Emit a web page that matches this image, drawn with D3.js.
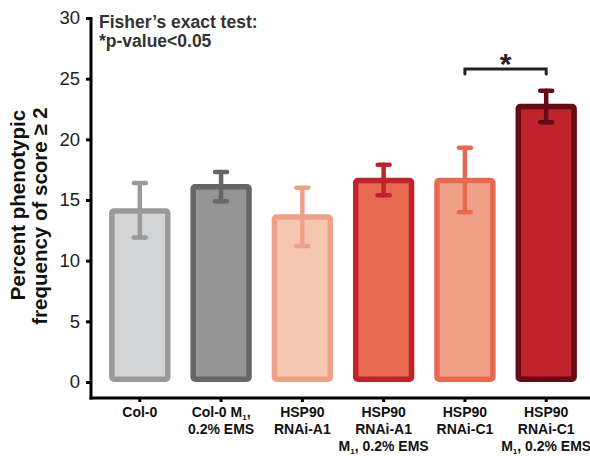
<!DOCTYPE html>
<html><head><meta charset="utf-8">
<script src="https://cdn.jsdelivr.net/npm/d3@7"></script>
<style>body{margin:0;background:#fff}svg{display:block;font-family:"Liberation Sans",Arial,sans-serif}</style>
</head><body><svg id="c" width="590" height="456"></svg>
<script>
const groups = ["Col-0", "Col-0 M1 EMS", "HSP90 RNAi-A1", "HSP90 RNAi-A1 M1 EMS", "HSP90 RNAi-C1", "HSP90 RNAi-C1 M1 EMS"];
const labelLines = [
  [["Col-0"]],
  [["Col-0 M", "1", ","], ["0.2% EMS"]],
  [["HSP90"], ["RNAi-A1"]],
  [["HSP90"], ["RNAi-A1"], ["M", "1", ", 0.2% EMS"]],
  [["HSP90"], ["RNAi-C1"]],
  [["HSP90"], ["RNAi-C1"], ["M", "1", ", 0.2% EMS"]]
];
const means = [14.1, 16.1, 13.6, 16.6, 16.6, 22.7];
const errLow = [11.9, 14.9, 11.2, 15.4, 14.0, 21.4];
const errHigh = [16.4, 17.3, 16.0, 17.9, 19.3, 24.0];
const fills = ["#d3d4d6", "#959595", "#f5c6b0", "#e76a50", "#f0a187", "#c1232c"];
const strokes = ["#9a9a9a", "#666666", "#eea189", "#c1232c", "#e76a50", "#650b15"];
const yTicks = [0, 5, 10, 15, 20, 25, 30];
const sigPair = [4, 5];

const svg = d3.select("#c");
const y = d3.scaleLinear().domain([0, 30]).range([382, 18]);
const x = d3.scaleBand().domain(groups).range([101, 585]).paddingInner(0.245).paddingOuter(0.1);

// y axis
const yAxis = svg.append("g").attr("transform", "translate(91,0)")
  .call(d3.axisLeft(y).tickValues(yTicks).tickSize(5).tickPadding(6));
yAxis.select(".domain").remove();
yAxis.selectAll("line").attr("stroke", "#000").attr("stroke-width", 3);
yAxis.selectAll("text").attr("font-size", 18.5).attr("fill", "#222").attr("font-family", "Liberation Sans, Arial, sans-serif");
svg.append("line").attr("x1", 91).attr("x2", 91).attr("y1", 17).attr("y2", 399.5)
  .attr("stroke", "#000").attr("stroke-width", 3);

// x axis
const xAxis = svg.append("g").attr("transform", "translate(0,398)")
  .call(d3.axisBottom(x).tickSize(4).tickFormat(""));
xAxis.select(".domain").remove();
xAxis.selectAll("line").attr("stroke", "#000").attr("stroke-width", 3);
svg.append("line").attr("x1", 89.5).attr("x2", 590).attr("y1", 398).attr("y2", 398)
  .attr("stroke", "#000").attr("stroke-width", 3);

// bars: stroke centred on the value line
const sw = 5.5;
svg.selectAll("rect.bar").data(groups).join("rect").attr("class", "bar")
  .attr("x", d => x(d) + sw / 2)
  .attr("width", x.bandwidth() - sw)
  .attr("y", (d, i) => y(means[i]))
  .attr("height", (d, i) => y(0) - y(means[i]) - sw / 2)
  .attr("rx", 2)
  .attr("fill", (d, i) => fills[i])
  .attr("stroke", (d, i) => strokes[i])
  .attr("stroke-width", sw);

// error bars
const eb = svg.selectAll("g.err").data(groups).join("g").attr("class", "err")
  .attr("stroke", (d, i) => strokes[i]).attr("stroke-width", 4.5).attr("stroke-linecap", "round");
eb.append("line")
  .attr("x1", d => x(d) + x.bandwidth() / 2).attr("x2", d => x(d) + x.bandwidth() / 2)
  .attr("y1", (d, i) => y(errHigh[i])).attr("y2", (d, i) => y(errLow[i]));
eb.append("line")
  .attr("x1", d => x(d) + x.bandwidth() / 2 - 6).attr("x2", d => x(d) + x.bandwidth() / 2 + 6)
  .attr("y1", (d, i) => y(errHigh[i])).attr("y2", (d, i) => y(errHigh[i]));
eb.append("line")
  .attr("x1", d => x(d) + x.bandwidth() / 2 - 6).attr("x2", d => x(d) + x.bandwidth() / 2 + 6)
  .attr("y1", (d, i) => y(errLow[i])).attr("y2", (d, i) => y(errLow[i]));

// significance bracket
const bx1 = x(groups[sigPair[0]]) + x.bandwidth() / 2;
const bx2 = x(groups[sigPair[1]]) + x.bandwidth() / 2;
const by = y(25.8);
svg.append("path")
  .attr("d", `M${bx1},${by + 5}V${by}H${bx2}V${by + 5}`)
  .attr("fill", "none").attr("stroke", "#222").attr("stroke-width", 3).attr("stroke-linecap", "round");
svg.append("text").attr("x", (bx1 + bx2) / 2).attr("y", by + 5).attr("text-anchor", "middle")
  .attr("font-size", 30).attr("font-weight", "bold").attr("fill", "#222").text("*");

// test annotation
const note = svg.append("text").attr("x", 99).attr("y", 28).attr("font-size", 17.5)
  .attr("font-weight", "bold").attr("fill", "#333");
note.append("tspan").attr("x", 99).text("Fisher\u2019s exact test:");
note.append("tspan").attr("x", 99).attr("dy", 19).text("*p-value<0.05");

// y axis title
const yt = svg.append("g").attr("font-size", 20.5).attr("font-weight", "bold").attr("fill", "#111")
  .attr("text-anchor", "middle");
yt.append("text").attr("transform", "translate(25,205) rotate(-90)").text("Percent phenotypic");
yt.append("text").attr("transform", "translate(47,216) rotate(-90)").text("frequency of score \u2265 2");

// category labels
svg.selectAll("text.cat").data(groups).join("text").attr("class", "cat")
  .attr("text-anchor", "middle").attr("font-size", 14).attr("font-weight", "bold").attr("fill", "#111")
  .each(function (d, i) {
    const t = d3.select(this);
    const cx = x(d) + x.bandwidth() / 2;
    labelLines[i].forEach((parts, li) => {
      const ts = t.append("tspan").attr("x", cx).attr("y", 417 + li * 17);
      parts.forEach((p, pi) => {
        if (parts.length > 1 && pi === 1) {
          ts.append("tspan").attr("font-size", 8).attr("dy", 2.5).text(p);
        } else if (parts.length > 1 && pi === 2) {
          ts.append("tspan").attr("dy", -2.5).text(p);
        } else {
          ts.append("tspan").text(p);
        }
      });
    });
  });
</script></body></html>
